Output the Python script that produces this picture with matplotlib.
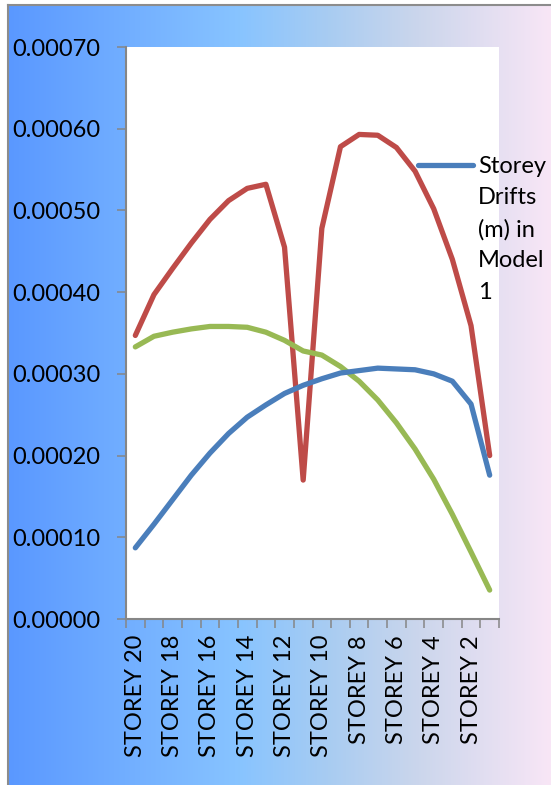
import numpy as np
import matplotlib
matplotlib.use("Agg")
import matplotlib.pyplot as plt
from matplotlib.colors import LinearSegmentedColormap
from matplotlib.lines import Line2D

plt.rcParams["font.family"] = ["Lato", "DejaVu Sans"]

# storey drift values (m), top storey first
storeys = ["STOREY %d" % n for n in range(20, 0, -1)]
drift_model1 = [0.0000871, 0.000116, 0.000146, 0.000176, 0.000203, 0.000227, 0.000247,
                0.000262, 0.000276, 0.000286, 0.000294, 0.000301, 0.000304, 0.000307,
                0.000306, 0.000305, 0.000300, 0.000291, 0.000263, 0.000176]
drift_model2 = [0.000347, 0.000397, 0.000429, 0.000460, 0.000489, 0.000512, 0.000527,
                0.000532, 0.000455, 0.000170, 0.000478, 0.000578, 0.000593, 0.000592,
                0.000577, 0.000548, 0.000502, 0.000440, 0.000359, 0.000200]
drift_model3 = [0.000333, 0.000346, 0.000351, 0.000355, 0.000358, 0.000358, 0.000357,
                0.000351, 0.000341, 0.000328, 0.000323, 0.000309, 0.000291, 0.000268,
                0.000240, 0.000208, 0.000171, 0.000128, 0.000082, 0.0000354]
legend_label = "Storey\nDrifts\n(m) in\nModel\n1"

W, H = 551, 785
fig = plt.figure(figsize=(W / 100, H / 100), dpi=100)
fig.patch.set_facecolor("white")

# gradient chart background
bg = fig.add_axes([8 / W, 0, 1 - 8 / W, 780 / H])
cmap = LinearSegmentedColormap.from_list(
    "bg", [(0, "#5A98FF"), (0.427, "#88C4FF"), (0.59, "#A8CCF2"),
           (0.757, "#CBD6EC"), (1, "#F8E6F6")])
bg.imshow(np.linspace(0, 1, 256)[None, :], cmap=cmap, aspect="auto",
          extent=[0, 1, 0, 1])
bg.set_xticks([])
bg.set_yticks([])
for side in ["right", "bottom"]:
    bg.spines[side].set_visible(False)
for side in ["left", "top"]:
    bg.spines[side].set_color("#8C8C8C")
    bg.spines[side].set_linewidth(1.5)

ax = fig.add_axes([126 / W, 166 / H, 373 / W, 572 / H])
ax.set_facecolor("white")

x = np.arange(len(storeys)) + 0.5
line_kw = dict(lw=3.8, solid_capstyle="round", solid_joinstyle="round")
ax.plot(x, drift_model1, color="#4A7EBB", zorder=3, **line_kw)
ax.plot(x, drift_model2, color="#BE4B48", zorder=2, **line_kw)
ax.plot(x, drift_model3, color="#98B954", zorder=2, **line_kw)

ax.set_xlim(0, len(storeys))
ax.set_ylim(0, 0.0007)
ax.set_yticks(np.arange(0, 0.00071, 0.0001))
ax.yaxis.set_major_formatter(matplotlib.ticker.FormatStrFormatter("%.5f"))

ax.set_xticks(x[::2])
ax.set_xticklabels(storeys[::2], rotation=90, va="top")
ax.set_xticks(np.arange(0, len(storeys) + 1), minor=True)

for side in ["top", "right"]:
    ax.spines[side].set_visible(False)
for side in ["left", "bottom"]:
    ax.spines[side].set_color("#868686")
    ax.spines[side].set_linewidth(1.5)

ax.tick_params(axis="y", direction="out", length=6.5, width=1.1, color="#868686",
               labelsize=17, pad=12)
ax.tick_params(axis="x", which="major", length=0, labelsize=17, pad=11.5)
ax.tick_params(axis="x", which="minor", direction="out", length=6.5, width=1.1,
               color="#868686")

# legend for the first series
fig.add_artist(Line2D([418 / W, 473 / W], [1 - 165 / H] * 2, color="#4A7EBB",
                      lw=3.8, solid_capstyle="round"))
fig.text(478 / W, 1 - 156 / H, legend_label, fontsize=17, va="top", ha="left",
         linespacing=1.6)

fig.savefig("out.png", dpi=100)
